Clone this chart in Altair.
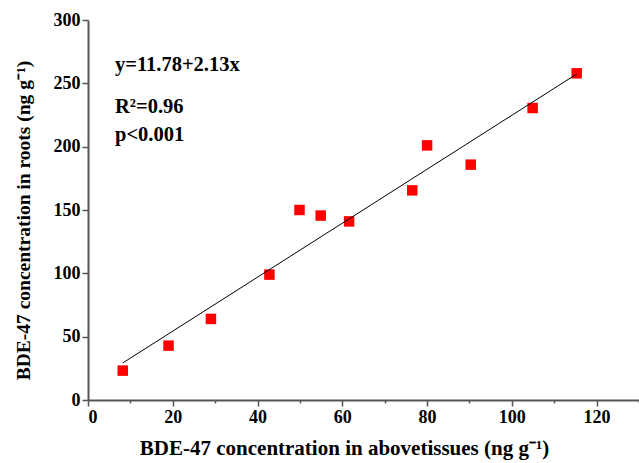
import altair as alt
import pandas as pd

above = [8.2, 19.0, 29.0, 42.8, 49.9, 54.9, 61.6, 76.5, 80.0, 90.3, 104.9, 115.3]
roots = [23.2, 42.9, 64.0, 99.0, 150.0, 145.6, 141.0, 165.5, 201.0, 185.8, 230.5, 257.9]
intercept = 11.78
slope = 2.13
notes = ["y=11.78+2.13x", "R\u00b2=0.96", "p<0.001"]

df = pd.DataFrame({"x": above, "y": roots})
line_df = pd.DataFrame({"x": [min(above), max(above)]})
FONT = "Liberation Serif"

xax = alt.Axis(
    values=list(range(0, 131, 10)),
    labelExpr="datum.value % 20 === 0 ? datum.label : ''",
    tickSize={"condition": {"test": "datum.value % 20 === 0", "value": 6}, "value": 3},
    title="BDE-47 concentration in abovetissues (ng g\u207b\u00b9)",
    titleX=256,
    grid=False,
)
yax = alt.Axis(
    values=list(range(0, 301, 25)),
    labelExpr="datum.value % 50 === 0 ? datum.label : ''",
    tickSize={"condition": {"test": "datum.value % 50 === 0", "value": 6}, "value": 3},
    title="BDE-47 concentration in roots (ng g\u207b\u00b9)",
    titleY=200,
    grid=False,
)
xs = alt.Scale(domain=[0, 130], nice=False, zero=False)
ys = alt.Scale(domain=[0, 300], nice=False)

pts = alt.Chart(df).mark_square(size=110, color="#ff0000", opacity=1).encode(
    x=alt.X("x:Q", scale=xs, axis=xax),
    y=alt.Y("y:Q", scale=ys, axis=yax),
)
fit = alt.Chart(line_df).transform_calculate(
    y=f"{intercept} + {slope} * datum.x"
).mark_line(color="black", strokeWidth=1).encode(
    x=alt.X("x:Q", scale=xs), y=alt.Y("y:Q", scale=ys)
)
note_df = pd.DataFrame({"t": notes, "yy": [51, 93, 121]})
txt = alt.Chart(note_df).mark_text(
    align="left", baseline="alphabetic", font=FONT, fontWeight="bold", fontSize=20.5, color="black"
).encode(text="t:N", x=alt.value(27), y=alt.Y("yy:Q", scale=None))

chart = alt.layer(pts, fit, txt).properties(
    width=551, height=380,
    padding={"left": 88, "top": 20, "right": 0, "bottom": 63},
    autosize=alt.AutoSizeParams(type="none"),
).configure_view(stroke=None).configure_axis(
    labelFont=FONT, labelFontWeight="bold", labelFontSize=18, labelColor="black",
    titleFont=FONT, titleFontWeight="bold", titleFontSize=21, titleColor="black",
    domainColor="#555555", domainWidth=2, tickColor="#555555", tickWidth=1.5,
    labelPadding=2,
).configure_axisX(titlePadding=11).configure_axisY(titlePadding=20, titleFontSize=19.5)

chart.save("out.html", embed_options={"renderer": "svg", "actions": False})
